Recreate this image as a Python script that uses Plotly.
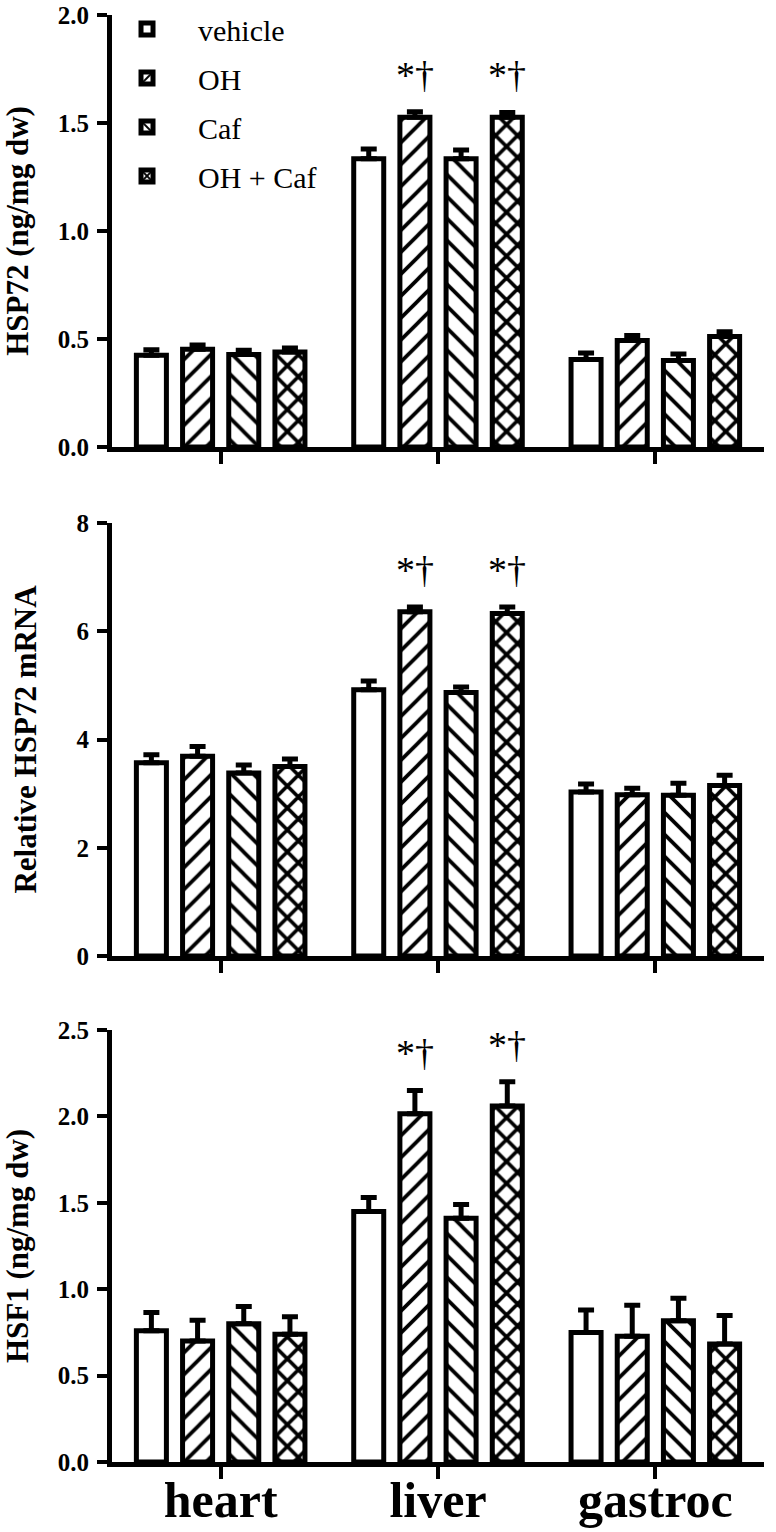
import plotly.graph_objects as go

organs = ["heart", "liver", "gastroc"]
groups = ["vehicle", "OH", "Caf", "OH + Caf"]
shapes = ["", "/", "\\", "x"]

# Panel 1: HSP72 protein (ng/mg dw)
p1_vehicle = [0.425, 1.335, 0.405]
p1_vehicle_err = [0.025, 0.045, 0.030]
p1_oh = [0.452, 1.527, 0.493]
p1_oh_err = [0.020, 0.025, 0.023]
p1_caf = [0.428, 1.335, 0.400]
p1_caf_err = [0.020, 0.040, 0.030]
p1_ohcaf = [0.440, 1.527, 0.512]
p1_ohcaf_err = [0.018, 0.022, 0.022]

# Panel 2: Relative HSP72 mRNA
p2_vehicle = [3.57, 4.92, 3.03]
p2_vehicle_err = [0.15, 0.16, 0.15]
p2_oh = [3.69, 6.36, 2.98]
p2_oh_err = [0.18, 0.09, 0.12]
p2_caf = [3.38, 4.87, 2.97]
p2_caf_err = [0.15, 0.10, 0.22]
p2_ohcaf = [3.50, 6.33, 3.15]
p2_ohcaf_err = [0.14, 0.12, 0.19]

# Panel 3: HSF1 (ng/mg dw)
p3_vehicle = [0.76, 1.45, 0.75]
p3_vehicle_err = [0.105, 0.08, 0.13]
p3_oh = [0.70, 2.015, 0.727]
p3_oh_err = [0.12, 0.135, 0.18]
p3_caf = [0.80, 1.41, 0.818]
p3_caf_err = [0.10, 0.08, 0.13]
p3_ohcaf = [0.74, 2.06, 0.683]
p3_ohcaf_err = [0.10, 0.14, 0.165]

y_titles = ["HSP72 (ng/mg dw)", "Relative HSP72 mRNA", "HSF1 (ng/mg dw)"]
y_ranges = [[0, 2.0], [0, 8], [0, 2.5]]
y_dticks = [0.5, 2, 0.5]
y_formats = [".1f", "d", ".1f"]
sig_mark = "*\u2020"
sig_organ = "liver"
sig_groups = ["OH", "OH + Caf"]

panels = [
    ([p1_vehicle, p1_oh, p1_caf, p1_ohcaf], [p1_vehicle_err, p1_oh_err, p1_caf_err, p1_ohcaf_err]),
    ([p2_vehicle, p2_oh, p2_caf, p2_ohcaf], [p2_vehicle_err, p2_oh_err, p2_caf_err, p2_ohcaf_err]),
    ([p3_vehicle, p3_oh, p3_caf, p3_ohcaf], [p3_vehicle_err, p3_oh_err, p3_caf_err, p3_ohcaf_err]),
]

W, H = 776, 1532
ML, MR, MT, MB = 112, 11.5, 15, 70
plot_h = H - MT - MB
plot_w = W - ML - MR
rows_px = [(15, 447), (523, 956), (1030, 1462)]  # pixel rows of the panels (top, bottom)
domains = [[1 - (b - MT) / plot_h, 1 - (t - MT) / plot_h] for t, b in rows_px]

BARGAP = 0.15
BARGROUPGAP = 0.35
SERIF = "Liberation Serif"
solidities = [0.3, 0.24, 0.24, 0.42]

fig = go.Figure()
for pi, (means, errs) in enumerate(panels):
    ax = "" if pi == 0 else str(pi + 1)
    for gi, g in enumerate(groups):
        fig.add_trace(go.Bar(
            x=organs, y=means[gi], name=g,
            xaxis="x" + ax, yaxis="y" + ax,
            legendgroup=g, showlegend=(pi == 0),
            marker=dict(color="white",
                        line=dict(color="black", width=5),
                        pattern=dict(shape=shapes[gi], fgcolor="black", bgcolor="white",
                                     fgopacity=1, size=15.5, solidity=solidities[gi],
                                     fillmode="replace")),
            error_y=dict(type="data", array=errs[gi], arrayminus=[0] * len(organs),
                         symmetric=False, color="black", thickness=5, width=8),
        ))
    axis_common = dict(showline=True, linecolor="black", linewidth=5, ticks="outside",
                       tickcolor="black", tickwidth=4, showgrid=False, zeroline=False,
                       automargin=False, ticklabeloverflow="allow")
    fig.layout["xaxis" + ax] = dict(
        axis_common, domain=[0, 1], anchor="y" + ax, ticklen=12,
        range=[-0.5, 2.5], type="category", categoryorder="array", categoryarray=organs,
        showticklabels=(pi == 2), ticklabelstandoff=-22,
        tickfont=dict(family=SERIF, size=50, color="black", weight="bold"),
    )
    fig.layout["yaxis" + ax] = dict(
        axis_common, domain=domains[pi], anchor="x" + ax, ticklen=10,
        range=y_ranges[pi], dtick=y_dticks[pi], tick0=0, tickformat=y_formats[pi],
        ticklabelstandoff=3,
        tickfont=dict(family=SERIF, size=25, color="black", weight="bold"),
        title=dict(text=y_titles[pi], standoff=32,
                   font=dict(family=SERIF, size=31, color="black", weight="bold")),
    )
    slot = (1 - BARGAP) / len(groups)
    oi = organs.index(sig_organ)
    for g in sig_groups:
        gi = groups.index(g)
        xpos = oi + (gi - (len(groups) - 1) / 2) * slot
        fig.add_annotation(x=xpos, y=means[gi][oi] + errs[gi][oi],
                           xref="x" + ax, yref="y" + ax, text=sig_mark,
                           showarrow=False, yanchor="bottom", yshift=14,
                           font=dict(family=SERIF, size=38, color="black"))

fig.update_layout(
    width=W, height=H,
    margin=dict(l=ML, r=MR, t=MT, b=MB, autoexpand=False),
    barmode="group", bargap=BARGAP, bargroupgap=BARGROUPGAP,
    plot_bgcolor="white", paper_bgcolor="white",
    legend=dict(x=-16 / plot_w, y=1 + 12 / plot_h, xanchor="left", yanchor="top",
                font=dict(family=SERIF, size=30, color="black"),
                bgcolor="rgba(0,0,0,0)", itemwidth=92, tracegroupgap=7,
                traceorder="grouped"),
)

# remove the browser's default 8px body margin so the figure fills the window exactly
fig.write_html("out.html", config={"displayModeBar": False},
               post_script="document.body.style.margin='0';")
